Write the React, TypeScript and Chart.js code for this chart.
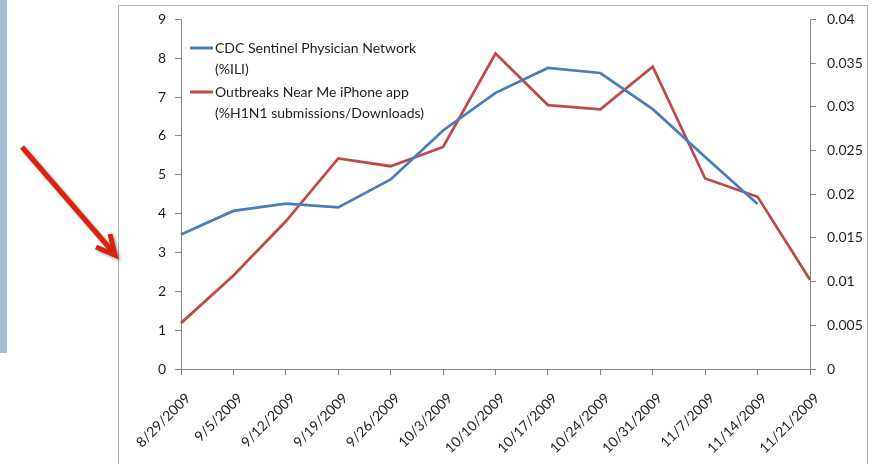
import React, { useEffect, useRef } from "react";
import { Chart, registerables } from "chart.js";

Chart.register(...registerables);

const categories = [
  "8/29/2009", "9/5/2009", "9/12/2009", "9/19/2009", "9/26/2009", "10/3/2009",
  "10/10/2009", "10/17/2009", "10/24/2009", "10/31/2009", "11/7/2009", "11/14/2009", "11/21/2009",
];
const cdcIli: (number | null)[] = [3.46, 4.07, 4.26, 4.16, 4.88, 6.14, 7.11, 7.75, 7.62, 6.69, 5.46, 4.25, null];
const outbreaksApp = [0.00525, 0.0107, 0.0169, 0.0241, 0.0232, 0.0254, 0.0361, 0.0302, 0.0297, 0.0346, 0.0218, 0.0197, 0.0102];
const cdcLegend = ["CDC Sentinel Physician Network", "(%ILI)"];
const appLegend = ["Outbreaks Near Me iPhone app", "(%H1N1 submissions/Downloads)"];
const leftAxis = { min: 0, max: 9, step: 1 };
const rightAxis = { min: 0, max: 0.04, step: 0.005 };

const BLUE = "#4a7ebb";
const RED = "#be4b48";
const AXIS = "#868686";
const TEXT = "#1f1f1f";
const FONT = "Lato";

const W = 875;
const H = 464;

const decorPlugin = {
  id: "decor",
  beforeDraw(chart: any) {
    const ctx = chart.ctx;
    ctx.save();
    ctx.fillStyle = "#ffffff";
    ctx.fillRect(0, 0, W, H);
    ctx.fillStyle = "#a7bdd5";
    ctx.fillRect(0, 0, 7, 353);
    ctx.strokeStyle = "#b4b4b4";
    ctx.lineWidth = 1;
    ctx.beginPath();
    ctx.moveTo(118.5, H);
    ctx.lineTo(118.5, 5.5);
    ctx.lineTo(867.5, 5.5);
    ctx.lineTo(867.5, H);
    ctx.stroke();
    ctx.restore();
  },
  afterDraw(chart: any) {
    const ctx = chart.ctx;
    ctx.save();
    ctx.shadowColor = "rgba(0,0,0,0.35)";
    ctx.shadowOffsetX = 2;
    ctx.shadowOffsetY = 2;
    ctx.shadowBlur = 3;
    ctx.strokeStyle = "#d9230f";
    ctx.lineWidth = 5;
    ctx.lineCap = "butt";
    ctx.lineJoin = "miter";
    ctx.beginPath();
    ctx.moveTo(22, 147);
    ctx.lineTo(113, 252);
    ctx.stroke();
    ctx.beginPath();
    ctx.moveTo(96, 247);
    ctx.lineTo(115, 255);
    ctx.lineTo(110, 234);
    ctx.stroke();
    ctx.restore();
  },
};

const legendPlugin = {
  id: "innerLegend",
  afterDatasetsDraw(chart: any) {
    const ctx = chart.ctx;
    const area = chart.chartArea;
    const entries = [
      { color: BLUE, lines: cdcLegend },
      { color: RED, lines: appLegend },
    ];
    ctx.save();
    ctx.font = `14px ${FONT}`;
    ctx.textBaseline = "middle";
    ctx.textAlign = "left";
    const x0 = area.left + 9;
    let y = 48;
    const lineH = 21;
    entries.forEach((e) => {
      ctx.strokeStyle = e.color;
      ctx.lineWidth = 3;
      ctx.beginPath();
      ctx.moveTo(x0, y);
      ctx.lineTo(x0 + 23, y);
      ctx.stroke();
      ctx.fillStyle = TEXT;
      e.lines.forEach((t, i) => {
        ctx.fillText(t, x0 + 25, y + i * lineH);
      });
      y += e.lines.length * lineH + 2;
    });
    ctx.restore();
  },
};

export default function App() {
  const ref = useRef<HTMLCanvasElement | null>(null);

  useEffect(() => {
    if (!ref.current) return;
    const chart = new Chart(ref.current, {
      type: "line",
      data: {
        labels: categories,
        datasets: [
          {
            label: cdcLegend.join(" "),
            data: cdcIli,
            borderColor: BLUE,
            backgroundColor: BLUE,
            borderWidth: 2.75,
            pointRadius: 0,
            tension: 0,
            yAxisID: "y",
            spanGaps: false,
          },
          {
            label: appLegend.join(" "),
            data: outbreaksApp,
            borderColor: RED,
            backgroundColor: RED,
            borderWidth: 2.75,
            pointRadius: 0,
            tension: 0,
            yAxisID: "y1",
          },
        ],
      },
      options: {
        responsive: false,
        maintainAspectRatio: false,
        animation: false,
        layout: { padding: { top: 16, left: 0, right: 0, bottom: 0 } },
        plugins: {
          legend: { display: false },
          tooltip: { enabled: false },
        },
        scales: {
          x: {
            offset: false,
            grid: { drawOnChartArea: false, drawTicks: true, tickLength: 6, color: AXIS },
            border: { display: true, color: AXIS },
            ticks: {
              autoSkip: false,
              minRotation: 45,
              maxRotation: 45,
              padding: 15,
              labelOffset: 7,
              color: TEXT,
              font: { family: FONT, size: 14 },
            },
            afterFit: (s: any) => {
              s.height = H - 369;
            },
          },
          y: {
            position: "left",
            min: leftAxis.min,
            max: leftAxis.max,
            grid: { drawOnChartArea: false, drawTicks: true, tickLength: 6, color: AXIS },
            border: { display: true, color: AXIS },
            ticks: {
              stepSize: leftAxis.step,
              padding: 9,
              color: TEXT,
              font: { family: FONT, size: 14 },
            },
            afterFit: (s: any) => {
              s.width = 181;
            },
          },
          y1: {
            position: "right",
            min: rightAxis.min,
            max: rightAxis.max,
            grid: { drawOnChartArea: false, drawTicks: true, tickLength: 6, color: AXIS },
            border: { display: true, color: AXIS },
            ticks: {
              stepSize: rightAxis.step,
              padding: 11,
              color: TEXT,
              font: { family: FONT, size: 14 },
              callback: (v: any) => String(Number(Number(v).toFixed(3))),
            },
            afterFit: (s: any) => {
              s.width = W - 810;
            },
          },
        },
      },
      plugins: [decorPlugin, legendPlugin],
    });
    return () => chart.destroy();
  }, []);

  return (
    <div style={{ position: "absolute", left: 0, top: 0, width: W, height: H, background: "#fff" }}>
      <canvas ref={ref} width={W} height={H} style={{ display: "block" }} />
    </div>
  );
}
